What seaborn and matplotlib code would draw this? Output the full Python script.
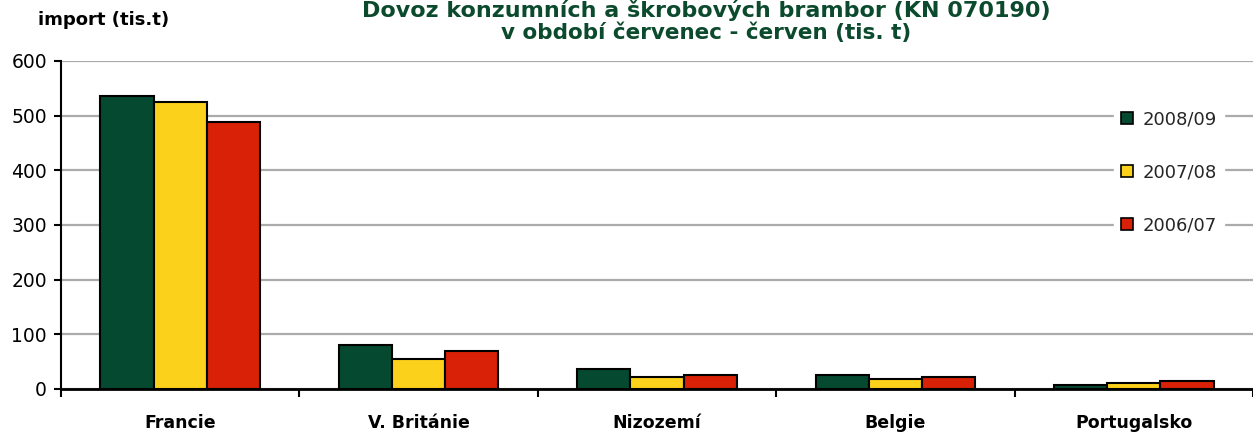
import matplotlib
matplotlib.use("Agg")
import matplotlib.pyplot as plt
import seaborn as sns
import pandas as pd
import numpy as np
from matplotlib.patches import Patch

categories = ["Francie", "V. Británie", "Nizozemí", "Belgie", "Portugalsko"]
seasons = ["2008/09", "2007/08", "2006/07"]
v_2008_09 = [536, 80, 37, 26, 7]
v_2007_08 = [525, 55, 22, 18, 11]
v_2006_07 = [488, 69, 26, 22, 15]
colors = ["#054a30", "#fcd11c", "#d82106"]

rows = []
for s, vals in zip(seasons, [v_2008_09, v_2007_08, v_2006_07]):
    for c, v in zip(categories, vals):
        rows.append({"country": c, "season": s, "value": v})
df = pd.DataFrame(rows)

sns.set_theme(style="white")
plt.rcParams["font.family"] = ["DejaVu Sans"]

fig = plt.figure(figsize=(12.53, 4.37), dpi=100)
ax = fig.add_axes([61/1253, 48/437, 1 - 61/1253, 328/437])

sns.barplot(data=df, x="country", y="value", hue="season", hue_order=seasons,
            order=categories, palette=colors, saturation=1, width=0.67, gap=0,
            edgecolor="black", linewidth=1.5, ax=ax, legend=False, zorder=3)

ax.set_ylim(0, 600)
ax.set_xlim(-0.5, len(categories) - 0.5)
ax.set_yticks(np.arange(0, 601, 100))
ax.yaxis.grid(True, color="#ababab", linewidth=1.6, zorder=0)
ax.set_axisbelow(True)
ax.set_xlabel("")
ax.set_ylabel("")

for side in ["top", "right"]:
    ax.spines[side].set_visible(False)
ax.spines["left"].set_color("black")
ax.spines["left"].set_linewidth(1.5)
ax.spines["bottom"].set_color("black")
ax.spines["bottom"].set_linewidth(2)

ax.tick_params(axis="y", which="major", left=True, length=5, width=1.5,
               color="black", labelsize=13.5, pad=5, labelcolor="black")
ax.tick_params(axis="x", which="major", bottom=False, length=0, pad=18,
               labelsize=12.5, labelcolor="black")
for lbl in ax.get_xticklabels():
    lbl.set_fontweight("bold")
ax.set_xticks(np.arange(-0.5, len(categories) - 0.4, 1), minor=True)
ax.tick_params(axis="x", which="minor", bottom=True, length=6, width=1.5,
               color="black")

handles = [Patch(facecolor=c, edgecolor="black", linewidth=1.2) for c in colors]
leg = ax.legend(handles, seasons, loc="upper left",
                bbox_to_anchor=(1114/1253, (437 - 103)/437),
                bbox_transform=fig.transFigure,
                frameon=True, fontsize=13, handlelength=0.65, handleheight=0.65,
                handletextpad=0.55, labelspacing=1.95, borderpad=0.4,
                borderaxespad=0)
leg.get_frame().set_facecolor("white")
leg.get_frame().set_edgecolor("white")
leg.get_frame().set_alpha(1)
leg.set_zorder(10)

fig.text(706/1253, 1 - 10/437, "Dovoz konzumních a škrobových brambor (KN 070190)",
         ha="center", va="center", fontsize=16, fontweight="bold", color="#0b4a2c")
fig.text(706/1253, 1 - 33/437, "v období červenec - červen (tis. t)",
         ha="center", va="center", fontsize=15.5, fontweight="bold", color="#0b4a2c")
fig.text(38/1253, 1 - 20/437, "import (tis.t)", ha="left", va="center",
         fontsize=13, fontweight="bold", color="black")

fig.savefig("out.png", dpi=100)
